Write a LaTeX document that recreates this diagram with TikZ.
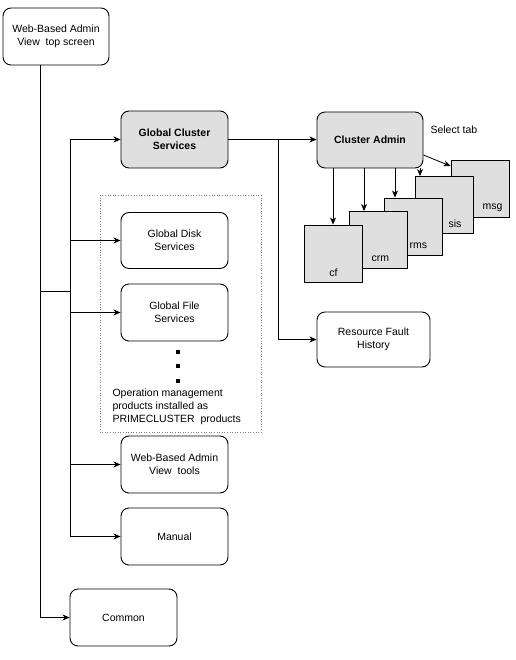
\documentclass[tikz,border=0pt]{standalone}
\usepackage{fontspec}
\setmainfont{Liberation Sans}
\usetikzlibrary{arrows.meta}

\begin{document}
\begin{tikzpicture}[x=1pt, y=-1pt,
  >={Stealth[length=7pt, width=6pt, inset=2pt]},
  every node/.style={font=\fontsize{10.5}{13}\selectfont},
  menubox/.style={draw, line width=0.9pt, rounded corners=8pt, align=center,
    minimum width=107pt, minimum height=57pt, inner sep=1pt},
  activebox/.style={menubox, fill=gray!25, font=\fontsize{10.5}{13}\selectfont\bfseries},
  tabbox/.style={draw, line width=0.9pt, fill=gray!25, minimum width=58pt, minimum height=57pt},
  link/.style={line width=0.8pt}]
  \useasboundingbox (0,0) rectangle (515,660);

  % products frame
  \draw[gray, dotted, line width=0.6pt] (100,195) rectangle (261,432);

  \node[menubox, minimum width=106pt] (top) at (56,36.5) {Web-Based Admin\\View\ \ top screen};
  \node[activebox] (gcs) at (174.5,139.5) {Global Cluster\\Services};
  \node[menubox, minimum height=56pt] (gds) at (174.5,240.5) {Global Disk\\Services};
  \node[menubox] (gfs) at (174.5,312.5) {Global File\\Services};
  \node[menubox] (tools) at (174.5,464.5) {Web-Based Admin\\View\ \ tools};
  \node[menubox] (manual) at (174.5,536.5) {Manual};
  \node[menubox] (common) at (123.5,617.5) {Common};
  \node[activebox, minimum width=106pt, minimum height=56pt] (ca) at (370,140) {Cluster Admin};
  \node[menubox, minimum width=113pt, minimum height=55pt] (rfh) at (373.5,339.5) {Resource Fault\\History};
  \node[anchor=west] (seltab) at (427,130) {Select tab};

  % tabs, back to front
  \node[tabbox] (msg) at (480,189) {};
  \node[tabbox] (sis) at (444.5,205) {};
  \node[tabbox] (rms) at (413,226.5) {};
  \node[tabbox] (crm) at (378,240) {};
  \node[tabbox] (cf) at (333,253.5) {};
  \foreach \t/\dx in {cf/29, crm/27, rms/24, sis/19, msg/17}
    \node (\t-l) at ([xshift=-\dx pt, yshift=10pt]\t.south east) {\t};

  % more products
  \foreach \y [count=\i] in {352,366,381}
    \node[fill, inner sep=0pt, minimum size=4pt] (dot\i) at (178,\y) {};
  \node[anchor=west, align=left] (opnote) at (109,407)
    {Operation management\\products installed as\\PRIMECLUSTER\ \ products};

  \coordinate (trunk) at (40,0);
  \coordinate (branch) at (70,291);
  \coordinate (fork) at (278,0);

  \draw[link, ->] (top.south -| trunk) |- (common.west);
  \draw[link] (trunk |- branch) -- (branch);
  \draw[link] (gcs.west -| branch) -- (manual.west -| branch);
  \foreach \n in {gcs,gds,gfs,tools,manual}
    \draw[link, ->] (\n.west -| branch) -- (\n.west);

  \draw[link, ->] (gcs.east) -- (gcs.east -| ca.west);
  \draw[link, ->] (gcs.east -| fork) |- (rfh.west);

  \foreach \x/\t in {333/cf, 364/crm, 395/rms, 420/sis}
    \draw[link, ->] (ca.south -| \x,0) -- (\x,0 |- \t.north);
  \draw[link, ->] ([yshift=-15pt]ca.east) -- ([yshift=-6pt]msg.north west);
\end{tikzpicture}
\end{document}
